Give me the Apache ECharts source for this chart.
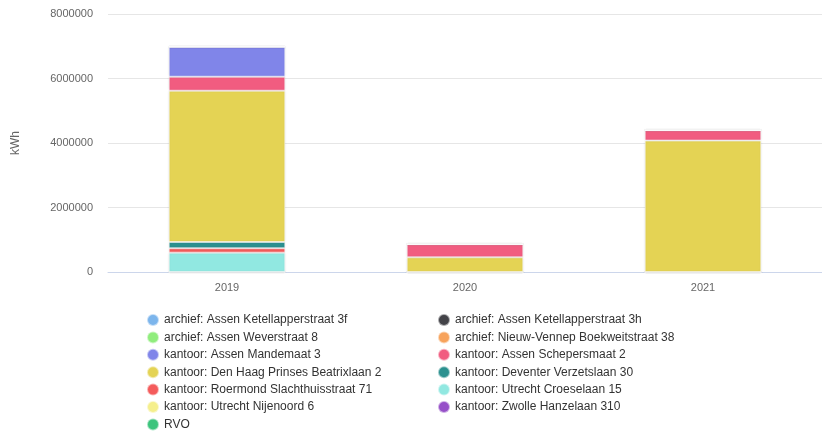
<!DOCTYPE html>
<html>
<head>
<meta charset="utf-8">
<script src="https://cdn.jsdelivr.net/npm/echarts@6/dist/echarts.min.js"></script>
<style>
  html, body { margin: 0; padding: 0; background: #fff; }
  #chart { width: 822px; height: 432px; }
</style>
</head>
<body>
<div id="chart"></div>
<script>
const years = ['2019', '2020', '2021'];

// legend order (top of stack first)
const locations = [
  'archief: Assen Ketellapperstraat 3f',
  'archief: Assen Ketellapperstraat 3h',
  'archief: Assen Weverstraat 8',
  'archief: Nieuw-Vennep Boekweitstraat 38',
  'kantoor: Assen Mandemaat 3',
  'kantoor: Assen Schepersmaat 2',
  'kantoor: Den Haag Prinses Beatrixlaan 2',
  'kantoor: Deventer Verzetslaan 30',
  'kantoor: Roermond Slachthuisstraat 71',
  'kantoor: Utrecht Croeselaan 15',
  'kantoor: Utrecht Nijenoord 6',
  'kantoor: Zwolle Hanzelaan 310',
  'RVO'
];

const colors = [
  '#7cb5ec', '#434348', '#90ed7d', '#f7a35c', '#8085e9', '#f15c80',
  '#e4d354', '#2b908f', '#f45b5b', '#91e8e1', '#f5ef8c', '#9650c8', '#3cc47c'
];

// kWh per year, same order as locations
const kWh = [
  [0, 0, 0],
  [0, 0, 0],
  [0, 0, 0],
  [0, 0, 0],
  [930000, 0, 0],
  [434000, 405000, 320000],
  [4690000, 455000, 4075000],
  [195000, 0, 0],
  [136000, 0, 0],
  [600000, 0, 0],
  [0, 0, 0],
  [0, 0, 0],
  [0, 0, 0]
];

const yTicks = { min: 0, max: 8000000, interval: 2000000 };

const chart = echarts.init(document.getElementById('chart'));

// first series sits on top of the stack, so add them in reverse
const series = locations.map((name, i) => ({
  name: name,
  type: 'bar',
  stack: 'total',
  barWidth: '49%',
  data: kWh[i],
  itemStyle: {
    color: colors[i],
    borderColor: 'rgba(255,255,255,0.55)',
    borderWidth: 1,
    shadowColor: 'rgba(0,0,0,0.12)',
    shadowBlur: 2
  }
})).reverse();

const col1 = locations.filter((_, i) => i % 2 === 0);
const col2 = locations.filter((_, i) => i % 2 === 1);

const legendBase = {
  orient: 'vertical',
  top: 313,
  height: 160,
  padding: 0,
  icon: 'circle',
  itemWidth: 12,
  itemHeight: 12,
  itemGap: 3.4,
  textStyle: { color: '#333', fontSize: 12, fontFamily: 'Liberation Sans' }
};

chart.setOption({
  animation: false,
  textStyle: { fontFamily: 'Liberation Sans' },
  color: colors,
  grid: { left: 108, right: -6, top: 14, bottom: 160 },
  legend: [
    Object.assign({}, legendBase, { left: 146, data: col1 }),
    Object.assign({}, legendBase, { left: 437, data: col2 })
  ],
  xAxis: {
    type: 'category',
    data: years,
    axisLine: { lineStyle: { color: '#ccd6eb' } },
    axisTick: { show: false },
    axisLabel: { color: '#666', fontSize: 11, margin: 10 }
  },
  yAxis: {
    type: 'value',
    min: yTicks.min,
    max: yTicks.max,
    interval: yTicks.interval,
    name: 'kWh',
    nameLocation: 'middle',
    nameGap: 86,
    nameTextStyle: { color: '#666', fontSize: 12 },
    axisLabel: { color: '#666', fontSize: 11, margin: 15, formatter: v => String(v) },
    splitLine: { lineStyle: { color: '#e6e6e6' } }
  },
  series: series
});
</script>
</body>
</html>
